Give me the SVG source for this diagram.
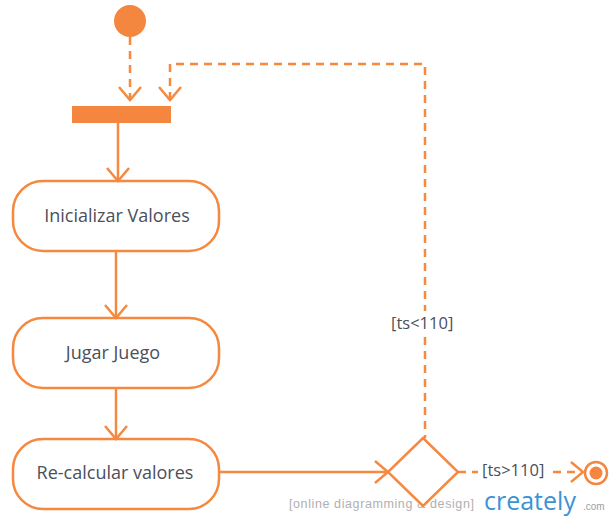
<svg xmlns="http://www.w3.org/2000/svg" width="610" height="517" viewBox="0 0 610 517">
<defs>
<style>
.act{fill:#fff;stroke:#f5893f;stroke-width:2.5}
.lbl{font-family:"Open Sans","Liberation Sans",sans-serif;font-size:18px;fill:#4a505c;text-anchor:middle}
.guard{font-family:"Open Sans","Liberation Sans",sans-serif;font-size:16.5px;fill:#4a505c}
.solid{fill:none;stroke:#f5893f;stroke-width:2.5}
.dash{fill:none;stroke:#f5893f;stroke-width:2.5;stroke-dasharray:8 6}
.head{fill:none;stroke:#f5893f;stroke-width:2.5}
</style>
</defs>
<rect width="610" height="517" fill="#fff"/>
<g id="watermark">
<text x="289" y="508" font-family="Liberation Sans,sans-serif" font-size="12.5" letter-spacing="0.6" fill="#b0b0b0">[online diagramming &amp; design]</text>
<text x="484" y="510" font-family="Open Sans,Liberation Sans,sans-serif" font-size="25" fill="#3b93d3">creately</text>
<text x="583" y="510" font-family="Liberation Sans,sans-serif" font-size="10" fill="#a0a0a0">.com</text>
</g>
<g id="start"><circle cx="130" cy="21" r="16" fill="#f5863f"/></g>
<g id="fork"><rect x="72" y="106" width="99" height="17" fill="#f5863f"/></g>
<g id="inicializar"><rect class="act" x="13" y="181" width="206" height="70" rx="30"/><text class="lbl" x="117" y="222">Inicializar Valores</text></g>
<g id="jugar"><rect class="act" x="13" y="318" width="206" height="70" rx="30"/><text class="lbl" x="113" y="359">Jugar Juego</text></g>
<g id="recalcular"><rect class="act" x="13" y="439" width="206" height="70" rx="30"/><text class="lbl" x="115" y="479">Re-calcular valores</text></g>
<g id="decision"><polygon class="act" points="423,438 458,472 423,506 388,472"/></g>
<g id="final"><circle cx="596" cy="473" r="11" fill="#fff" stroke="#f5863f" stroke-width="2.5"/><circle cx="596" cy="473" r="6.5" fill="#f5863f"/></g>
<g id="connectors">
<path class="dash" d="M130,37 V100"/>
<path class="head" d="M119,87 L130,100 L141,87"/>
<path class="dash" d="M170,100 V64 H425 V311"/>
<path class="head" d="M159,87 L170,100 L181,87"/>
<path class="dash" d="M425,337 V438"/>
<text class="guard" x="391" y="329">[ts&lt;110]</text>
<path class="solid" d="M118,123 V181"/>
<path class="head" d="M107,168 L118,181 L129,168"/>
<path class="solid" d="M116,251 V318"/>
<path class="head" d="M105,305 L116,318 L127,305"/>
<path class="solid" d="M116,388 V439"/>
<path class="head" d="M105,426 L116,439 L127,426"/>
<path class="solid" d="M219,472 H388"/>
<path class="head" d="M375,461 L388,472 L375,483"/>
<path class="dash" d="M458,472 H478"/>
<text class="guard" x="482" y="476">[ts&gt;110]</text>
<path class="dash" d="M553,472 H583"/>
<path class="head" d="M571,462 L583,472 L571,482"/>
</g>
</svg>
